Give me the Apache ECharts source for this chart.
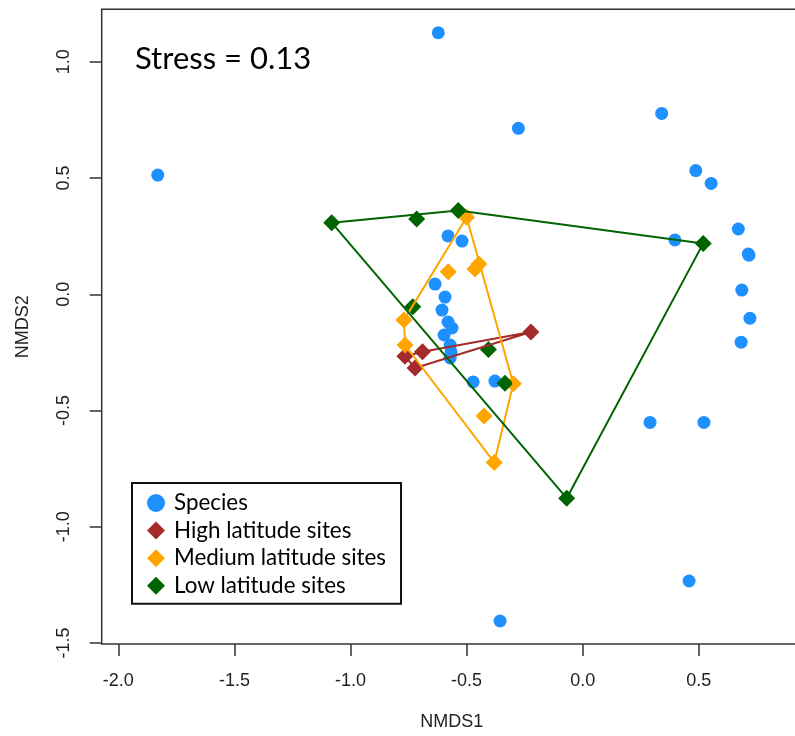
<!DOCTYPE html>
<html>
<head>
<meta charset="utf-8">
<script src="https://cdn.jsdelivr.net/npm/echarts@6/dist/echarts.min.js"></script>
<style>
  html, body { margin: 0; padding: 0; background: #fff; }
  #chart { width: 795px; height: 736px; }
</style>
</head>
<body>
<div id="chart"></div>
<script>
// NMDS ordination scores
const speciesX = [-1.830, -0.622, -0.277, 0.340, 0.487, 0.553, 0.670, 0.397, 0.713, 0.716, 0.685, 0.720, 0.682,
  0.290, 0.522, 0.458, -0.356, -0.580, -0.520, -0.636, -0.593, -0.606, -0.580, -0.563, -0.597, -0.571, -0.567,
  -0.571, -0.472, -0.378];
const speciesY = [0.513, 1.125, 0.714, 0.778, 0.532, 0.477, 0.281, 0.234, 0.173, 0.168, 0.018, -0.103, -0.206,
  -0.551, -0.551, -1.233, -1.405, 0.251, 0.229, 0.044, -0.012, -0.068, -0.119, -0.145, -0.175, -0.218, -0.248,
  -0.274, -0.377, -0.373];

const highX = [-0.766, -0.690, -0.722, -0.223];
const highY = [-0.266, -0.247, -0.317, -0.162];

const mediumX = [-0.500, -0.579, -0.464, -0.447, -0.770, -0.765, -0.299, -0.425, -0.381];
const mediumY = [0.331, 0.097, 0.109, 0.130, -0.111, -0.218, -0.385, -0.523, -0.723];

const lowX = [-1.081, -0.715, -0.536, 0.519, -0.069, -0.732, -0.406, -0.335];
const lowY = [0.308, 0.324, 0.360, 0.219, -0.877, -0.053, -0.237, -0.382];

const groupNames = ['Species', 'High latitude sites', 'Medium latitude sites', 'Low latitude sites'];
const groupColors = ['#1E90FF', '#A52A2A', '#FFA500', '#006400'];

const xTicks = [-2.0, -1.5, -1.0, -0.5, 0.0, 0.5];
const yTicks = [-1.5, -1.0, -0.5, 0.0, 0.5, 1.0];

const stressLabel = 'Stress = 0.13';

function pairs(xs, ys) {
  return xs.map((x, i) => [x, ys[i]]);
}

// convex hull (monotone chain), returned closed for drawing
function hull(points) {
  const p = points.slice().sort((a, b) => a[0] - b[0] || a[1] - b[1]);
  const cross = (o, a, b) => (a[0] - o[0]) * (b[1] - o[1]) - (a[1] - o[1]) * (b[0] - o[0]);
  const lower = [];
  for (const q of p) {
    while (lower.length >= 2 && cross(lower[lower.length - 2], lower[lower.length - 1], q) <= 0) lower.pop();
    lower.push(q);
  }
  const upper = [];
  for (let i = p.length - 1; i >= 0; i--) {
    const q = p[i];
    while (upper.length >= 2 && cross(upper[upper.length - 2], upper[upper.length - 1], q) <= 0) upper.pop();
    upper.push(q);
  }
  const h = lower.slice(0, -1).concat(upper.slice(0, -1));
  h.push(h[0]);
  return h;
}

const siteGroups = [
  { name: groupNames[1], color: groupColors[1], pts: pairs(highX, highY) },
  { name: groupNames[2], color: groupColors[2], pts: pairs(mediumX, mediumY) },
  { name: groupNames[3], color: groupColors[3], pts: pairs(lowX, lowY) }
];

const axisFont = 'Liberation Sans';
const textFont = 'Lato';

const series = [{
  name: groupNames[0],
  type: 'scatter',
  data: pairs(speciesX, speciesY),
  symbol: 'circle',
  symbolSize: 13,
  itemStyle: { color: groupColors[0], opacity: 1 },
  z: 2
}];

siteGroups.forEach((g, i) => {
  series.push({
    name: g.name,
    type: 'scatter',
    data: g.pts,
    symbol: 'diamond',
    symbolSize: 17,
    itemStyle: { color: g.color, opacity: 1 },
    z: 3 + i
  });
});

siteGroups.forEach((g, i) => {
  series.push({
    name: g.name + ' hull',
    type: 'line',
    data: hull(g.pts),
    showSymbol: false,
    symbol: 'none',
    lineStyle: { color: g.color, width: 2 },
    silent: true,
    z: 6 + i
  });
});

const chart = echarts.init(document.getElementById('chart'), null, { renderer: 'canvas' });

chart.setOption({
  backgroundColor: '#fff',
  animation: false,
  grid: {
    left: 101.7,
    top: 9.3,
    width: 700,
    height: 634.7,
    outerBoundsMode: 'none',
    containLabel: false,
    show: true,
    borderColor: '#333',
    borderWidth: 1.5,
    backgroundColor: 'transparent'
  },
  xAxis: {
    type: 'value',
    min: -2.0715,
    max: 0.943,
    name: 'NMDS1',
    nameLocation: 'middle',
    nameGap: 69,
    nameMoveOverlap: false,
    nameTextStyle: { fontFamily: axisFont, fontSize: 18, color: '#222' },
    axisLine: { show: false, onZero: false },
    splitLine: { show: false },
    axisTick: {
      show: true,
      customValues: xTicks,
      length: 12,
      lineStyle: { color: '#333', width: 1.5 }
    },
    axisLabel: {
      customValues: xTicks,
      margin: 28,
      fontFamily: axisFont,
      fontSize: 18,
      color: '#222',
      formatter: v => v.toFixed(1)
    }
  },
  yAxis: {
    type: 'value',
    min: -1.504,
    max: 1.2258,
    name: 'NMDS2',
    nameLocation: 'middle',
    nameGap: 70,
    nameMoveOverlap: false,
    nameTextStyle: { fontFamily: axisFont, fontSize: 18, color: '#222' },
    axisLine: { show: false, onZero: false },
    splitLine: { show: false },
    axisTick: {
      show: true,
      customValues: yTicks,
      length: 12,
      lineStyle: { color: '#333', width: 1.5 }
    },
    axisLabel: {
      customValues: yTicks,
      rotate: 90,
      margin: 29,
      fontFamily: axisFont,
      fontSize: 18,
      color: '#222',
      formatter: v => v.toFixed(1)
    }
  },
  legend: {
    orient: 'vertical',
    left: 132,
    top: 483,
    padding: [9, 15, 7, 15],
    itemGap: 5.6,
    itemWidth: 18,
    itemHeight: 18,
    borderColor: '#111',
    borderWidth: 2,
    selectedMode: false,
    textStyle: { fontFamily: textFont, fontSize: 22.4, color: '#000', lineHeight: 22, padding: [0, 0, 0, 4] },
    data: [
      { name: groupNames[0], icon: 'circle' },
      { name: groupNames[1], icon: 'diamond' },
      { name: groupNames[2], icon: 'diamond' },
      { name: groupNames[3], icon: 'diamond' }
    ]
  },
  graphic: [{
    type: 'text',
    left: 135,
    top: 43,
    style: { text: stressLabel, font: '31px ' + textFont, fill: '#000' }
  }],
  series: series
});
</script>
</body>
</html>
